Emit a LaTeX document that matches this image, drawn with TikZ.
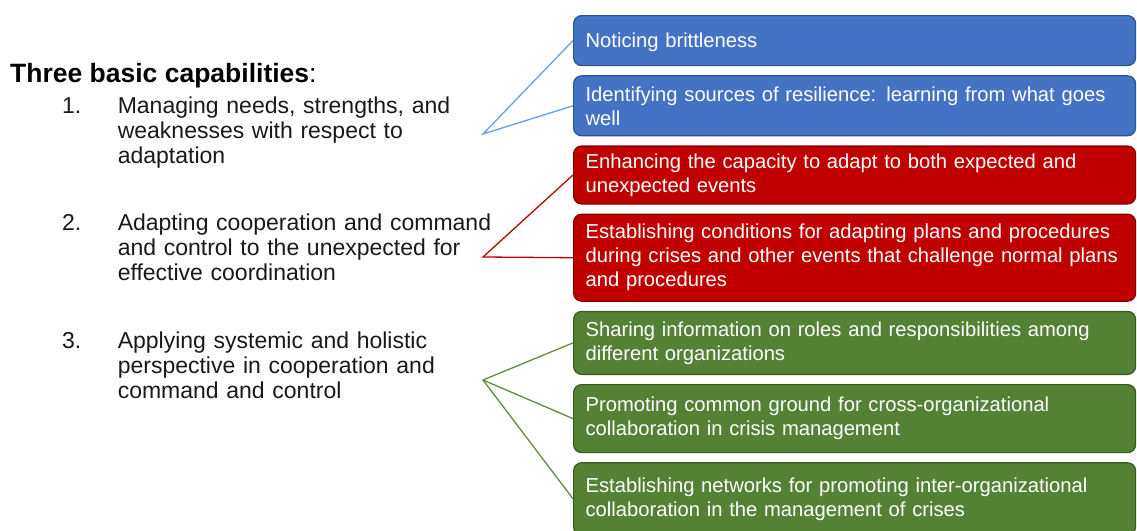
\documentclass[tikz,border=0pt]{standalone}
\usepackage{fontspec}
\setmainfont{Liberation Sans}
\usepackage{xcolor}
\usepackage{tikz}
\usetikzlibrary{positioning}

\definecolor{capblue}{RGB}{68,114,196}
\definecolor{capblueline}{RGB}{47,82,143}
\definecolor{capbluelink}{RGB}{110,160,212}
\definecolor{capred}{RGB}{192,0,0}
\definecolor{capredline}{RGB}{130,0,0}
\definecolor{capgreen}{RGB}{84,130,53}
\definecolor{capgreenline}{RGB}{56,87,35}
\definecolor{capgreenlink}{RGB}{100,140,70}

\begin{document}
\begin{tikzpicture}[
    x=1pt, y=-1pt,
    node distance=9pt,
    title/.style={anchor=base west, inner sep=0pt, font=\fontsize{26.5}{30}\selectfont\bfseries},
    num/.style={anchor=base west, inner sep=0pt, font=\fontsize{23}{25}\selectfont, text=black!90},
    item/.style={inner sep=0pt, text width=380pt, align=left, font=\fontsize{23}{25}\selectfont, text=black!90},
    capbox/.style={rectangle, draw, line width=1.2pt, rounded corners=8pt, text=white,
        minimum width=562pt, text width=538pt, inner xsep=12pt, align=left,
        font=\fontsize{20.2}{24}\selectfont},
    bluebox/.style={capbox, fill=capblue, draw=capblueline},
    redbox/.style={capbox, fill=capred, draw=capredline},
    greenbox/.style={capbox, fill=capgreen, draw=capgreenline},
    link/.style={line width=1.3pt}
]
\useasboundingbox (0,0) rectangle (1137,530);
\clip (0,0) rectangle (1137,530);

% Capability list
\node[title] (head) at (10,82) {Three basic capabilities\mdseries:};
\node[num] (num1) at (62,113) {1.};
\node[item, base right=36pt of num1] (cap1) {Managing needs, strengths, and\\weaknesses with respect to\\adaptation};
\node[num] (num2) at (62,230) {2.};
\node[item, base right=36pt of num2] (cap2) {Adapting cooperation and command\\and control to the unexpected for\\effective coordination};
\node[num] (num3) at (62,348) {3.};
\node[item, base right=36pt of num3] (cap3) {Applying systemic and holistic\\perspective in cooperation and\\command and control};

% Boxes
\node[bluebox, minimum height=50pt, text depth=0pt, anchor=north west] (b1) at (573,15) {Noticing brittleness};
\node[bluebox, minimum height=60pt, below=of b1] (b2) {Identifying sources of resilience: learning from what goes\\well};
\node[redbox, minimum height=58pt, below=of b2] (b3) {Enhancing the capacity to adapt to both expected and\\unexpected events};
\node[redbox, minimum height=87pt, below=of b3] (b4) {Establishing conditions for adapting plans and procedures\\during crises and other events that challenge normal plans\\and procedures};
\node[greenbox, minimum height=63pt, below=of b4] (b5) {Sharing information on roles and responsibilities among\\different organizations};
\node[greenbox, minimum height=68pt, below=of b5] (b6) {Promoting common ground for cross-organizational\\collaboration in crisis management};
\node[greenbox, minimum height=72pt, below=of b6] (b7) {Establishing networks for promoting inter-organizational\\collaboration in the management of crises};

% Connectors
\coordinate (fork1) at (483,134);
\coordinate (fork2) at (483,257);
\coordinate (fork3) at (483,380);
\draw[link, capbluelink] (b1.west) -- (fork1) -- (b2.west);
\draw[link, capred] (b3.west) -- (fork2) -- (b4.west);
\draw[link, capgreenlink] (b5.west) -- (fork3) -- (b6.west);
\draw[link, capgreenlink] (fork3) -- (b7.west);

\end{tikzpicture}
\end{document}
